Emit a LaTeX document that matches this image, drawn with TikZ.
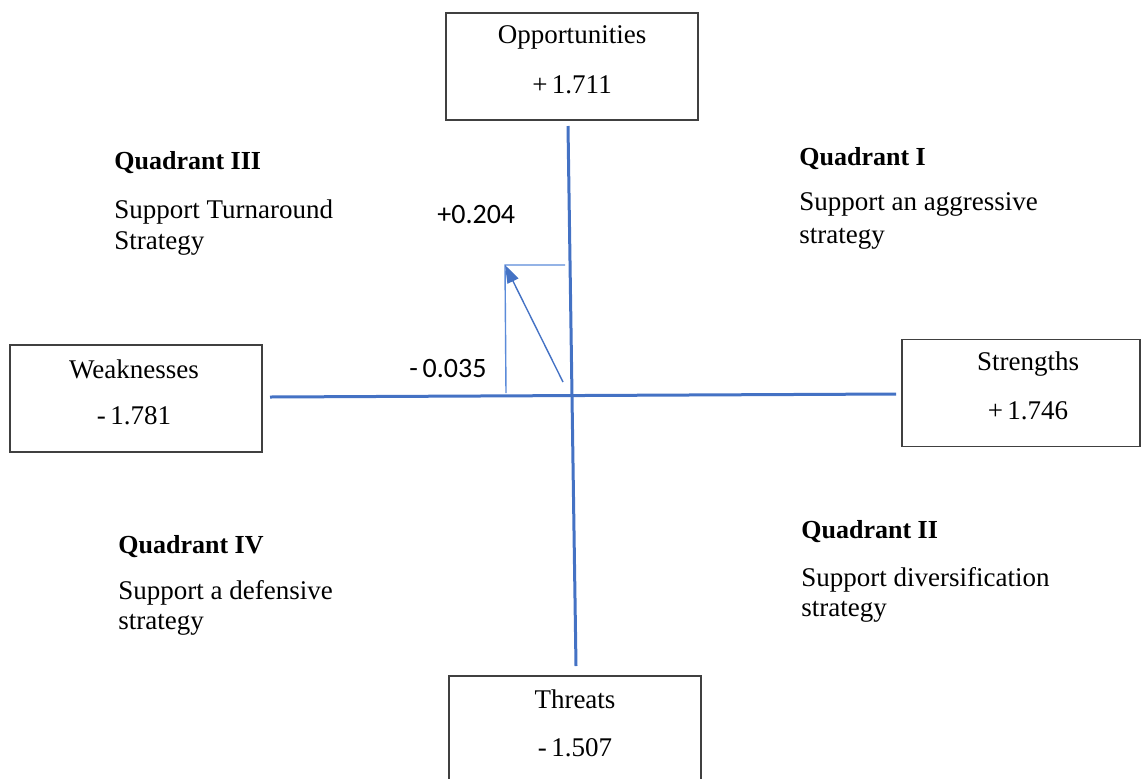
\documentclass[tikz,border=0pt]{standalone}
\usepackage{fontspec}
\setmainfont{Liberation Serif}
\newfontfamily\numfont{Carlito}
\usepackage{tikz}
\usetikzlibrary{arrows.meta}
\definecolor{axisblue}{HTML}{4472C4}
\definecolor{thinblue}{HTML}{5B8BD9}
\definecolor{boxgray}{HTML}{404040}
\tikzset{
  swotbox/.style={draw=boxgray, line width=0.75pt, minimum width=126pt, minimum height=53.5pt, inner sep=0pt},
  boxtxt/.style={font=\fontsize{13.5}{16}\selectfont, inner sep=0pt},
  quadhead/.style={font=\fontsize{13}{16}\selectfont\bfseries, anchor=west, inner sep=0pt},
  quadtxt/.style={font=\fontsize{13.5}{16}\selectfont, anchor=west, inner sep=0pt},
  valtxt/.style={font=\numfont\fontsize{14}{16}\selectfont, anchor=west, inner sep=0pt},
  axisline/.style={draw=axisblue, line width=1.5pt},
  guideline/.style={draw=thinblue, line width=0.7pt}
}
\begin{document}
\begin{tikzpicture}[x=0.5pt, y=-0.5pt]
\useasboundingbox (0,0) rectangle (1142,778);
\clip (0,0) rectangle (1142,778);
% boxes
\node[swotbox] (opp) at (572,66.5) {};
\node[swotbox] (weak) at (136,398.5) {};
\node[swotbox, minimum width=119pt] (str) at (1021,393) {};
\node[swotbox] (thr) at (575,729.5) {};
\node[boxtxt] at (572,37.5) {Opportunities};
\node[boxtxt] at (572,84.5) {+\,1.711};
\node[boxtxt] at (134,369.5) {Weaknesses};
\node[boxtxt] at (134,415.5) {-\,1.781};
\node[boxtxt] at (1028,364.5) {Strengths};
\node[boxtxt] at (1028,410.5) {+\,1.746};
\node[boxtxt] at (575,699.5) {Threats};
\node[boxtxt] at (575,747.5) {-\,1.507};
% axes
\coordinate (ytop) at (568,126);
\coordinate (ybot) at (576,666);
\coordinate (xleft) at (270,397);
\coordinate (xright) at (896,394);
\draw[axisline] (ytop) -- (ybot);
\draw[axisline] (xleft) -- (xright);
% result vector
\coordinate (pbase) at (506,393);
\coordinate (pt) at (505,265);
\coordinate (pax) at (565,265);
\coordinate (porig) at (563,382);
\draw[guideline] (pbase) -- (pt) -- (pax);
\draw[guideline, draw=axisblue, -{Triangle[length=9pt, width=6pt]}] (porig) -- (pt);
\node[valtxt] (vy) at (437,215) {+0.204};
\node[valtxt] (vx) at (409,369) {-\,0.035};
% quadrants
\node[quadhead] (q3) at (114,162.5) {Quadrant III};
\node[quadtxt] at (114,211.5) {Support Turnaround};
\node[quadtxt] at (114,243.5) {Strategy};
\node[quadhead] (q1) at (799,158.5) {Quadrant I};
\node[quadtxt] at (799,204.5) {Support an aggressive};
\node[quadtxt] at (799,238.5) {strategy};
\node[quadhead] (q2) at (801,531.5) {Quadrant II};
\node[quadtxt] at (801,579.5) {Support diversification};
\node[quadtxt] at (801,611.5) {strategy};
\node[quadhead] (q4) at (118,546.5) {Quadrant IV};
\node[quadtxt] at (118,592.5) {Support a defensive};
\node[quadtxt] at (118,624.5) {strategy};
\end{tikzpicture}
\end{document}
